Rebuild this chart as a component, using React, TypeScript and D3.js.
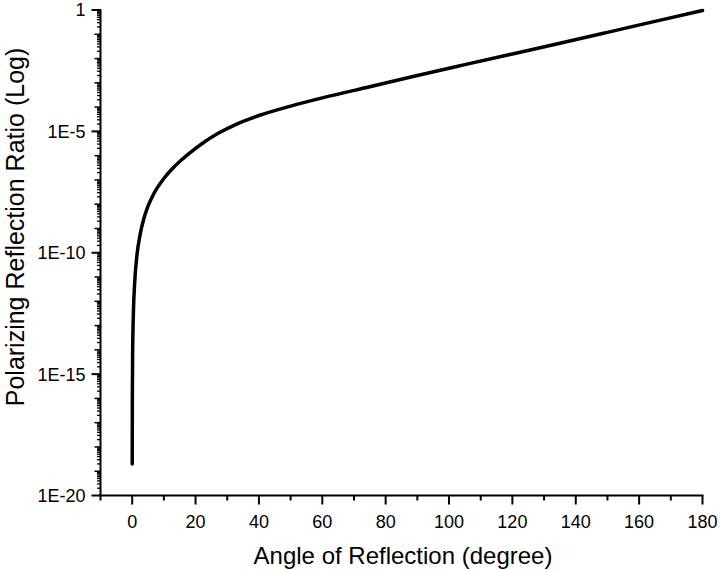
// App.tsx
import React from 'react';
import * as d3 from 'd3';

// curve: angle (degree) vs. ratio
const angles = [
  0.01, 0.05, 0.15, 0.4, 0.8, 1.5, 2.5, 3.66, 5, 6.5, 8, 10, 12.5, 15, 18, 22, 27, 33, 40, 50, 60, 75, 90,
  105, 120, 135, 150, 165, 180,
];
const ratios = [
  2.0e-19, 1e-16, 8.9e-15, 4.0e-13, 6.3e-12, 7.9e-11, 5.6e-10, 2.5e-9, 8.3e-9, 2.24e-8, 4.9e-8, 1.15e-7,
  2.75e-7, 5.75e-7, 1.23e-6, 3.1e-6, 8.1e-6, 2.0e-5, 4.5e-5, 1.1e-4, 2.4e-4, 6.9e-4, 2.0e-3, 5.6e-3,
  1.55e-2, 4.27e-2, 0.12, 0.34, 0.955,
];

const xTicks = [0, 20, 40, 60, 80, 100, 120, 140, 160, 180];
const xMinorTicks = [-10, 10, 30, 50, 70, 90, 110, 130, 150, 170];
const yTicks = [1, 1e-5, 1e-10, 1e-15, 1e-20];
const yTickLabels = ['1', '1E-5', '1E-10', '1E-15', '1E-20'];

const width = 720;
const height = 570;
const left = 100.5;
const right = 702.5;
const top = 10;
const bottom = 495.5;
const font = '"Liberation Sans", Arial, sans-serif';

const App = () => {
  const x = d3.scaleLinear().domain([-10, 180]).range([left, right]);
  const y = d3.scaleLog().domain([1e-20, 1]).range([bottom, top]);

  const line = d3
    .line<number>()
    .x((d, i) => x(angles[i]))
    .y((d) => y(d))
    .curve(d3.curveMonotoneX);

  // decade ticks and sub-decade log ticks
  const decades = d3.range(-20, 1).map((e) => Math.pow(10, e)).filter((v) => !yTicks.includes(v));
  const subs: number[] = [];
  d3.range(-20, 0).forEach((e) => {
    d3.range(2, 10).forEach((m) => subs.push(m * Math.pow(10, e)));
  });

  return (
    <svg width={width} height={height} style={{ position: 'absolute', left: 0, top: 0, background: '#fff' }}>
      {/* y axis */}
      <line x1={left} x2={left} y1={top - 1} y2={bottom} stroke="#000" strokeWidth={2} />
      {subs.map((v, i) => (
        <line key={'s' + i} x1={left - 3.5} x2={left} y1={y(v)} y2={y(v)} stroke="#000" strokeWidth={1.3} />
      ))}
      {decades.map((v, i) => (
        <line key={'d' + i} x1={left - 6} x2={left} y1={y(v)} y2={y(v)} stroke="#000" strokeWidth={1.5} />
      ))}
      {yTicks.map((v, i) => (
        <g key={'y' + i}>
          <line x1={left - 9} x2={left} y1={y(v)} y2={y(v)} stroke="#000" strokeWidth={2} />
          <text x={left - 15} y={y(v)} dy="0.36em" textAnchor="end" fontFamily={font} fontSize={18}>
            {yTickLabels[i]}
          </text>
        </g>
      ))}

      {/* x axis */}
      <line x1={left - 1} x2={right + 1} y1={bottom} y2={bottom} stroke="#000" strokeWidth={2} />
      {xMinorTicks.map((v) => (
        <line key={'xm' + v} x1={x(v)} x2={x(v)} y1={bottom} y2={bottom + 5} stroke="#000" strokeWidth={2} />
      ))}
      {xTicks.map((v) => (
        <g key={'x' + v}>
          <line x1={x(v)} x2={x(v)} y1={bottom} y2={bottom + 9} stroke="#000" strokeWidth={2} />
          <text x={x(v)} y={528} textAnchor="middle" fontFamily={font} fontSize={18}>
            {v}
          </text>
        </g>
      ))}

      {/* curve */}
      <path d={line(ratios) || ''} fill="none" stroke="#000" strokeWidth={3.5} strokeLinecap="round" />

      {/* titles */}
      <text x={403} y={564} textAnchor="middle" fontFamily={font} fontSize={24}>
        Angle of Reflection (degree)
      </text>
      <text transform={`translate(24, 227) rotate(-90)`} textAnchor="middle" fontFamily={font} fontSize={25}>
        Polarizing Reflection Ratio (Log)
      </text>
    </svg>
  );
};

export default App;
